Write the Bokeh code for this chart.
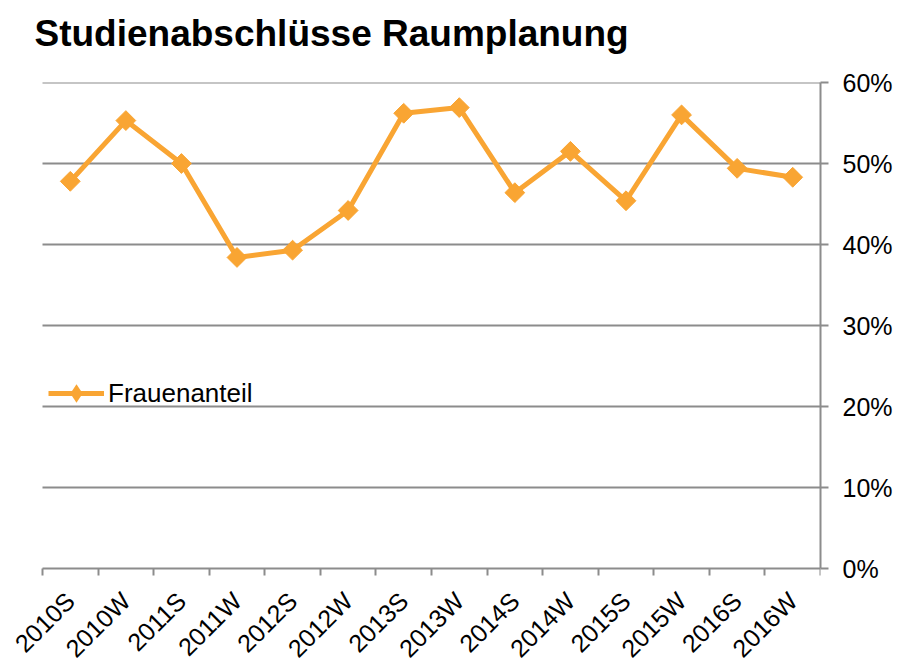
from math import pi
from bokeh.plotting import figure
from bokeh.models import (Range1d, LinearAxis, FixedTicker, Legend, LegendItem,
                          ColumnDataSource, NumeralTickFormatter, LabelSet, Title)
from bokeh.core.properties import value
from bokeh.embed import file_html
from bokeh.resources import INLINE

categories = ["2010S", "2010W", "2011S", "2011W", "2012S", "2012W", "2013S",
              "2013W", "2014S", "2014W", "2015S", "2015W", "2016S", "2016W"]
frauenanteil = [0.478, 0.553, 0.500, 0.384, 0.393, 0.442, 0.562,
                0.569, 0.464, 0.515, 0.454, 0.560, 0.494, 0.483]
y_ticks = [0.0, 0.1, 0.2, 0.3, 0.4, 0.5, 0.6]
title_text = "Studienabschlüsse Raumplanung"
series_name = "Frauenanteil"

ORANGE = "#F9A533"
GRID = "#8C8C8C"
FONT = "Liberation Sans"

N = len(categories)
# plot area covers the whole canvas left of the right axis; the category band
# [0, N] x [0, 0.6] occupies 778 x 486 px, the margins hold the rotated labels
Y_TOP = 0.6
Y_BOTTOM = -93 * Y_TOP / 486
X_LEFT = -42 * N / 778

xs = [i + 0.5 for i in range(N)]
src = ColumnDataSource(dict(x=xs, y=frauenanteil))

p = figure(width=900, height=661, output_backend="svg", toolbar_location=None,
           x_range=Range1d(X_LEFT, N), y_range=Range1d(Y_BOTTOM, Y_TOP),
           min_border_left=0, min_border_right=80, min_border_top=82,
           min_border_bottom=0, x_axis_location=None, y_axis_location=None)
p.outline_line_color = None
p.background_fill_color = "white"
p.border_fill_color = "white"
p.xgrid.visible = False
p.ygrid.visible = False

# title (outermost above panel) + spacer panel between title and plot area
p.title.text = title_text
p.title.text_font = FONT
p.title.text_font_size = "37px"
p.title.text_font_style = "bold"
p.title.text_color = "black"
p.title.align = "left"
p.title.offset = 34
p.title.standoff = 0
spacer = Title(text=" ", text_font=FONT, text_font_size="10px", standoff=16)
p.add_layout(spacer, "above")

# horizontal gridlines across the category band
grid_src = ColumnDataSource(dict(y=y_ticks[1:], x0=[0] * (len(y_ticks) - 1),
                                 x1=[N] * (len(y_ticks) - 1)))
p.segment(x0="x0", y0="y", x1="x1", y1="y", source=grid_src,
          line_color=GRID, line_width=2, level="underlay")

# x axis fixed at 0: category boundary ticks only
xaxis = LinearAxis(ticker=FixedTicker(ticks=[], minor_ticks=list(range(N + 1))),
                   fixed_location=0, bounds=(0, N))
xaxis.major_tick_line_color = None
xaxis.major_tick_in = 0
xaxis.major_tick_out = 0
xaxis.major_label_standoff = 0
xaxis.minor_tick_line_color = GRID
xaxis.minor_tick_line_width = 2
xaxis.minor_tick_in = -7
xaxis.minor_tick_out = 0
xaxis.axis_line_color = GRID
xaxis.axis_line_width = 2
p.add_layout(xaxis, "below")

# rotated category labels under the axis
lab_src = ColumnDataSource(dict(x=xs, y=[0.0] * N, text=categories))
labels = LabelSet(x="x", y="y", text="text", source=lab_src, angle=pi / 4,
                  text_align="right", text_baseline="middle", y_offset=-28,
                  text_font=value(FONT), text_font_size="25px", text_color="black")
p.add_layout(labels)

# y axis (right)
yaxis = LinearAxis(ticker=FixedTicker(ticks=y_ticks, minor_ticks=[]), bounds=(0, Y_TOP))
yaxis.formatter = NumeralTickFormatter(format="0%")
yaxis.major_label_text_font = FONT
yaxis.major_label_text_font_size = "25px"
yaxis.major_label_text_color = "black"
yaxis.major_label_standoff = 14
yaxis.major_tick_line_color = GRID
yaxis.major_tick_line_width = 2
yaxis.major_tick_in = 0
yaxis.major_tick_out = 8
yaxis.minor_tick_line_color = None
yaxis.axis_line_color = GRID
yaxis.axis_line_width = 2
p.add_layout(yaxis, "right")

line = p.line("x", "y", source=src, line_color=ORANGE, line_width=5)
pts = p.scatter("x", "y", source=src, marker="square", size=14, angle=pi / 4,
                fill_color=ORANGE, line_color=ORANGE)
# zero-size diamond on the same data: invisible in the plot, gives the legend a diamond swatch
legend_marker = p.scatter("x", "y", source=src, marker="diamond", size=0,
                          fill_color=ORANGE, line_color=None)

legend = Legend(items=[LegendItem(label=series_name, renderers=[line, legend_marker])],
                location=(48, 245), orientation="vertical")
legend.background_fill_alpha = 0
legend.border_line_color = None
legend.padding = 0
legend.margin = 0
legend.spacing = 0
legend.glyph_width = 56
legend.glyph_height = 46
legend.label_standoff = 4
legend.label_text_font = FONT
legend.label_text_font_size = "26px"
legend.label_text_color = "black"
legend.label_height = 46
p.add_layout(legend, "center")

open("out.html", "w").write(file_html(p, INLINE))
